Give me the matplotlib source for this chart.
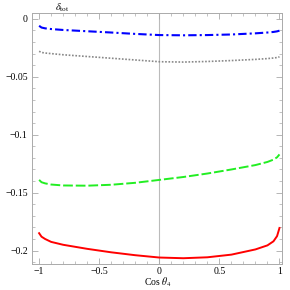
import matplotlib
matplotlib.use("Agg")
import matplotlib.pyplot as plt
from matplotlib.ticker import MultipleLocator

plt.rcParams['font.family'] = ['Liberation Serif', 'DejaVu Serif']
plt.rcParams['mathtext.fontset'] = 'stix'

cos_t = [-1.0, -0.98, -0.95, -0.9, -0.8, -0.6, -0.4, -0.2, 0.0, 0.2, 0.4, 0.6, 0.8, 0.9, 0.95, 0.98, 1.0]

d_blue = [-0.006, -0.0075, -0.0082, -0.0088, -0.0096, -0.0107, -0.0118, -0.0130, -0.0140, -0.0142,
          -0.0140, -0.0135, -0.0125, -0.0118, -0.0113, -0.0108, -0.0102]
d_gray = [-0.0280, -0.0290, -0.0295, -0.0300, -0.0310, -0.0325, -0.0340, -0.0355, -0.0370, -0.0373,
          -0.0368, -0.0360, -0.0350, -0.0343, -0.0338, -0.0334, -0.0328]
d_green = [-0.1390, -0.1410, -0.1420, -0.1430, -0.1438, -0.1440, -0.1432, -0.1415, -0.1390, -0.1365,
           -0.1335, -0.1300, -0.1262, -0.1235, -0.1215, -0.1195, -0.1170]
d_red = [-0.1850, -0.1880, -0.1900, -0.1925, -0.1950, -0.1985, -0.2015, -0.2040, -0.2060, -0.2066,
         -0.2058, -0.2035, -0.1990, -0.1955, -0.1920, -0.1875, -0.1805]

fig = plt.figure(figsize=(2.9, 2.9), dpi=100)
ax = fig.add_axes([0.110, 0.088, 0.862, 0.867])

ax.axvline(0, color='#bbbbbb', lw=0.8, zorder=0)

ax.plot(cos_t, d_blue, color='#0000ff', lw=1.5, dashes=(4, 1.5, 1, 1.5))
ax.plot(cos_t, d_gray, color='#888888', lw=1.2, dashes=(1, 1))
ax.plot(cos_t, d_green, color='#22ee22', lw=1.4, dashes=(5, 1.5))
ax.plot(cos_t, d_red, color='#ff0000', lw=1.4)

ax.set_xlim(-1.06, 1.02)
ax.set_ylim(-0.212, 0.005)

ax.xaxis.set_minor_locator(MultipleLocator(0.1))
ax.yaxis.set_minor_locator(MultipleLocator(0.01))
ax.set_xticks([-1, -0.5, 0, 0.5, 1])
ax.set_xticklabels(['\u22121', '\u22120.5', '0', '0.5', '1'])
ax.set_yticks([0, -0.05, -0.1, -0.15, -0.2])
ax.set_yticklabels(['0', '\u22120.05', '\u22120.1', '\u22120.15', '\u22120.2'])

ax.tick_params(which='both', direction='in', top=True, right=True, color='#aaaaaa', labelsize=7)
ax.tick_params(axis='x', pad=1.5)
ax.tick_params(axis='y', pad=3)
ax.tick_params(which='major', length=4, width=0.6)
ax.tick_params(which='minor', length=2, width=0.5)
for s in ax.spines.values():
    s.set_color('#aaaaaa')
    s.set_linewidth(0.7)

fig.text(0.545, 0.004, r'Cos $\theta_4$', fontsize=7, ha='center', va='bottom')
fig.text(0.19, 0.975, r'$\delta_{\rm tot}$', fontsize=7.5, ha='left', va='center')

fig.savefig('out.png', dpi=100)
